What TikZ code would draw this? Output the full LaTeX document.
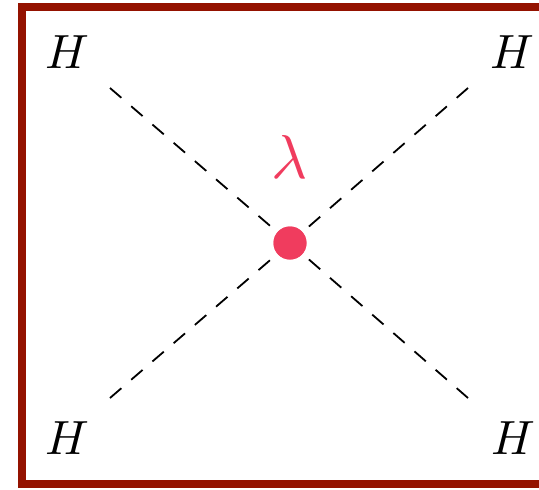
\documentclass[tikz,border=0pt]{standalone}
\usepackage{xcolor}
\definecolor{FrameRed}{HTML}{941200}
\definecolor{VertexPink}{HTML}{F03C5E}
\usetikzlibrary{positioning}

\begin{document}
\begin{tikzpicture}[
  x=1pt, y=-1pt,
  higgs/.style={scale=4.8, inner sep=0pt, text=black},
  prop/.style={dashed, dash pattern=on 15pt off 13pt, line width=1.8pt, black},
  vertex/.style={circle, fill=VertexPink, minimum size=33pt, inner sep=0pt},
  coupling/.style={scale=6.2, text=VertexPink, inner sep=0pt},
]
\clip (0,0) rectangle (539,490);
\useasboundingbox (0,0) rectangle (539,490);
\draw[FrameRed, line width=8pt] (21.5,7) rectangle (570,484);

\node[higgs] (hTL) at (67,52) {$H$};
\node[higgs] (hTR) at (512,52) {$H$};
\node[higgs] (hBL) at (67,438) {$H$};
\node[higgs] (hBR) at (513,438) {$H$};

\coordinate (eTL) at (110,88);
\coordinate (eTR) at (468,88);
\coordinate (eBL) at (110,398);
\coordinate (eBR) at (468,398);

\node[vertex] (v) at (290,243) {};
\foreach \e in {eTL,eTR,eBL,eBR} {
  \draw[prop] (\e) -- (v.center);
}
\node[vertex] at (v) {};
\node[coupling] (lam) at (290,157) {$\lambda$};
\end{tikzpicture}
\end{document}
